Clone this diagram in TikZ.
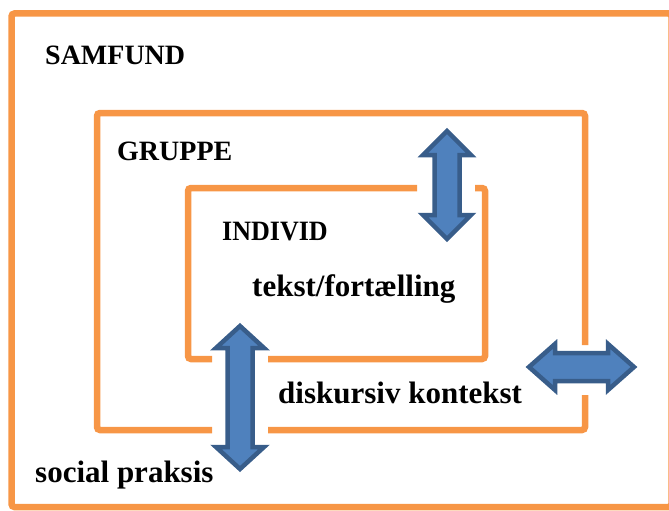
\documentclass[tikz,border=0pt]{standalone}
\usepackage{fontspec}
\setmainfont{Liberation Serif}
\definecolor{frameorange}{HTML}{F79646}
\definecolor{arrowfill}{HTML}{4F81BD}
\definecolor{arrowline}{HTML}{385D8A}
\tikzset{
  frame/.style={draw=frameorange, line width=6.5pt, rounded corners=3pt},
  blockarrow/.style={fill=arrowfill, draw=arrowline, line width=4.5pt, line join=miter},
  lbl/.style={anchor=base west, inner sep=0pt, font=\bfseries\fontsize{28}{30}\selectfont},
  lbllow/.style={anchor=base west, inner sep=0pt, font=\bfseries\fontsize{31}{33}\selectfont}
}
\begin{document}
\begin{tikzpicture}[x=1pt,y=-1pt]
\useasboundingbox (0,0) rectangle (669,511);
\clip (0,0) rectangle (669,511);
% outer frame (SAMFUND)
\draw[frame] (11.5,13.5) rectangle (671.5,507);
% middle frame (GRUPPE) with gaps
\draw[frame] (585,345) -- (585,113) -- (97,113) -- (97,430) -- (212,430);
\draw[frame] (268,430) -- (585,430) -- (585,395);
% inner frame (INDIVID) with gaps
\draw[frame] (417,188) -- (188,188) -- (188,359) -- (212,359);
\draw[frame] (268,359) -- (485,359) -- (485,188) -- (475,188);
% arrows
\draw[blockarrow] (447,131) -- (471,155) -- (459.5,155) -- (459.5,215) -- (471,215) -- (447,239)
  -- (423,215) -- (434.5,215) -- (434.5,155) -- (423,155) -- cycle;
\draw[blockarrow] (240,326) -- (264,348) -- (252.5,348) -- (252.5,447) -- (264,447) -- (240,469)
  -- (216,447) -- (227.5,447) -- (227.5,348) -- (216,348) -- cycle;
\draw[blockarrow] (529,367) -- (555,344) -- (555,353) -- (608,353) -- (608,344) -- (634,367)
  -- (608,390) -- (608,381) -- (555,381) -- (555,390) -- cycle;
% labels
\node[lbl] (samfund) at (45,65) {SAMFUND};
\node[lbl] (gruppe) at (117,160) {GRUPPE};
\node[lbl, xscale=0.93] (individ) at (222,240) {INDIVID};
\node[lbllow] (tekst) at (252,296) {tekst/fortælling};
\node[lbllow] (diskursiv) at (278,403) {diskursiv kontekst};
\node[lbllow] (social) at (35,482) {social praksis};
\end{tikzpicture}
\end{document}
